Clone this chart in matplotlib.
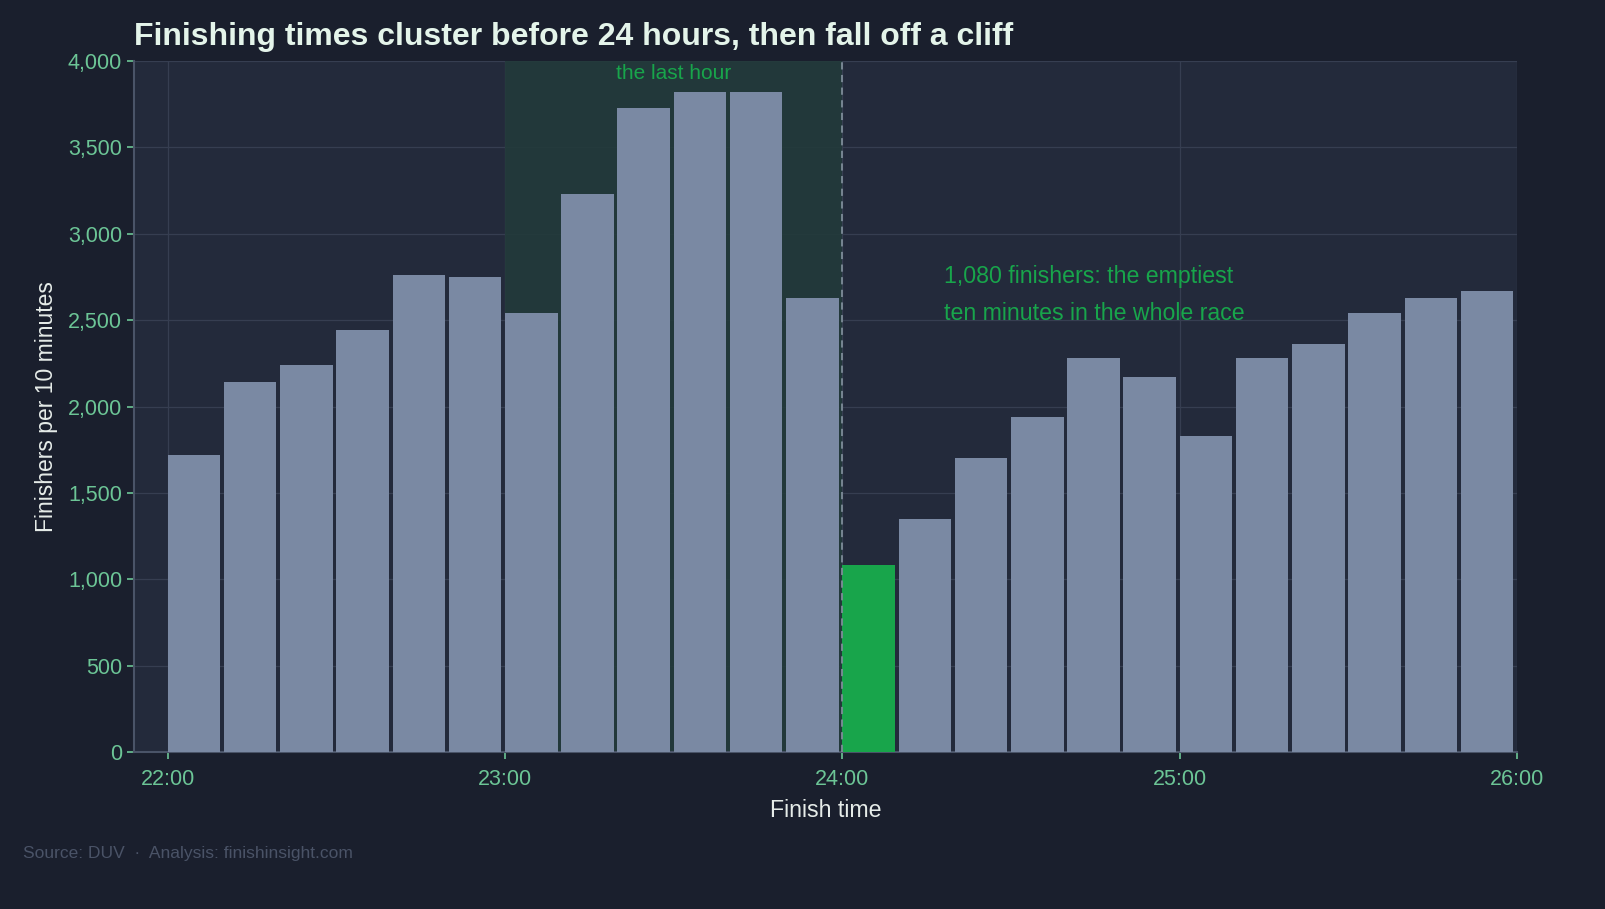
import matplotlib.pyplot as plt
import numpy as np
from matplotlib.ticker import FuncFormatter

plt.rcParams['font.family'] = ['Liberation Sans', 'DejaVu Sans']

# 10-minute bins starting at 22:00 (hours)
bin_start = [22 + i / 6 for i in range(24)]
finishers = [1720, 2140, 2240, 2440, 2760, 2750, 2540, 3230, 3730, 3820, 3820, 2630,
             1080, 1350, 1700, 1940, 2280, 2170, 1830, 2280, 2360, 2540, 2630, 2670]
highlight = 12  # the 24:00-24:10 bin
xticks = [22, 23, 24, 25, 26]
xtick_labels = ['22:00', '23:00', '24:00', '25:00', '26:00']

bg = '#1a1f2d'
ax_bg = '#232a3b'
bar_c = '#7a89a3'
green = '#18a54b'
tick_c = '#6cc596'

fig = plt.figure(figsize=(16.06, 9.09), dpi=100, facecolor=bg)
ax = fig.add_axes([0.0834, 0.1727, 0.8612, 0.7602])
ax.set_facecolor(ax_bg)

ax.axvspan(23, 24, color='#223a3a', alpha=0.9, zorder=1, lw=0)

colors = [green if i == highlight else bar_c for i in range(len(finishers))]
ax.bar(bin_start, finishers, width=(1 / 6) * 0.935, align='edge', color=colors, zorder=3, lw=0)

ax.axvline(24, color='#7d8c99', lw=1.3, ls=(0, (4, 3)), zorder=4)

ax.set_xlim(21.9, 26.0)
ax.set_ylim(0, 4000)
ax.set_xticks(xticks)
ax.set_xticklabels(xtick_labels)
ax.set_yticks(np.arange(0, 4001, 500))
ax.yaxis.set_major_formatter(FuncFormatter(lambda v, p: f'{int(v):,}'))
ax.grid(True, color='#363e51', lw=0.9, zorder=0)
ax.set_axisbelow(True)

ax.tick_params(colors=tick_c, labelsize=15.5, length=5, width=1.2)
ax.tick_params(axis='x', pad=7)
for s in ['top', 'right']:
    ax.spines[s].set_visible(False)
for s in ['left', 'bottom']:
    ax.spines[s].set_color('#4a5468')
    ax.spines[s].set_linewidth(1.5)

ax.set_xlabel('Finish time', color='#e6ece9', fontsize=16.7, labelpad=7)
ax.set_ylabel('Finishers per 10 minutes', color='#e6ece9', fontsize=16.5, labelpad=7)

ax.text(23.5, 3985, 'the last hour', color=green, fontsize=15, ha='center', va='top', zorder=5)
ax.text(24.3, 2750, '1,080 finishers: the emptiest', color=green, fontsize=16.7, ha='left', va='center', zorder=5)
ax.text(24.3, 2541, 'ten minutes in the whole race', color=green, fontsize=16.7, ha='left', va='center', zorder=5)

fig.text(0.0834, 0.959, 'Finishing times cluster before 24 hours, then fall off a cliff',
         color='#e4f4ea', fontsize=23, fontweight='bold', ha='left', va='center')
fig.text(0.0143, 0.0616, 'Source: DUV  ·  Analysis: finishinsight.com', color='#4a5367',
         fontsize=12.5, ha='left', va='center')

fig.savefig('out.png', dpi=100, facecolor=bg)
